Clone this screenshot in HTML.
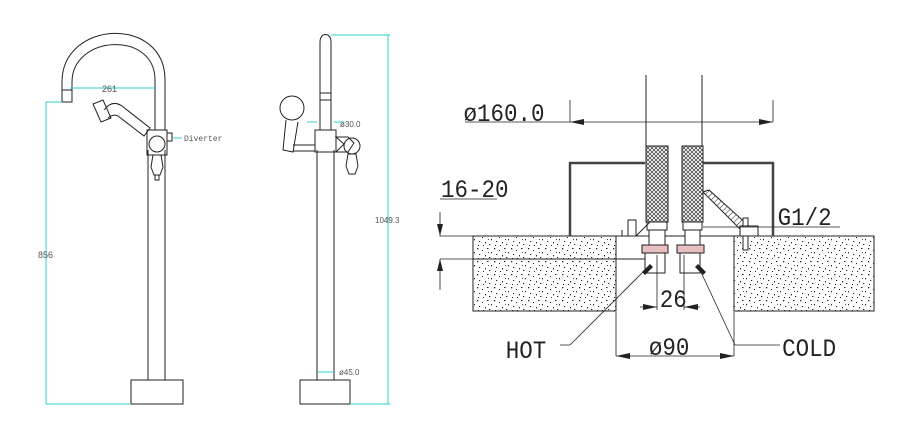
<!DOCTYPE html>
<html><head><meta charset="utf-8"><style>html,body{margin:0;padding:0;background:#fff}svg{display:block}</style></head><body>
<svg width="900" height="433" viewBox="0 0 900 433" xmlns="http://www.w3.org/2000/svg" font-family="Liberation Sans, sans-serif">
<defs>
<pattern id="sp" width="17" height="13" patternUnits="userSpaceOnUse">
<rect width="17" height="13" fill="#fff"/>
<g fill="#222">
<rect x="1" y="1" width="1.3" height="1.3"/><rect x="6" y="3" width="1" height="1"/><rect x="11" y="1" width="1.5" height="1"/><rect x="15" y="5" width="1" height="1.3"/>
<rect x="3" y="7" width="1.2" height="1"/><rect x="9" y="8" width="1" height="1.4"/><rect x="13" y="10" width="1.3" height="1"/><rect x="2" y="11" width="1" height="1"/><rect x="7" y="11" width="1" height="1"/><rect x="12" y="5" width="0.9" height="0.9"/>
</g></pattern>
<pattern id="hx" width="4" height="4" patternUnits="userSpaceOnUse"><rect width="4" height="4" fill="#fff"/><path d="M0 0L4 4M4 0L0 4" stroke="#333" stroke-width="0.7"/></pattern>
<pattern id="hl" width="4" height="4" patternUnits="userSpaceOnUse" patternTransform="rotate(45)"><rect width="4" height="4" fill="#fff"/><path d="M0 0V4" stroke="#222" stroke-width="1"/></pattern>
</defs>
<g fill="none" stroke="#222" stroke-width="1">
<rect x="131" y="380" width="52" height="24"/>
<path d="M148 380V150M165 380V150"/>
<path d="M62 82 C62 20 165 15 165 80 V130 M72 82 C72 35 155 30 155 80 V130"/>
<path d="M62 82V102H72V82M62 90H72"/>
<rect x="147" y="130" width="20" height="25"/>
<circle cx="157" cy="144" r="8"/>
<path d="M153 155h8l2 12-3 8h-6l-3-8z M155 175v5h4v-5"/>
<path d="M167 133h5v8h-5"/>
<path d="M93 104l10-4 8 18-10 4z M104 110c6-8 12-8 18-4l28 22-6 8-26-20c-4-2-8 0-10 2"/>
<rect x="300" y="380" width="50" height="24"/>
<path d="M317 380V150M334 380V150"/>
<path d="M320 130V42c0-10 11-10 11 0V130M320 93h11M320 100h11"/>
<rect x="315" y="130" width="21" height="22"/>
<circle cx="292" cy="108" r="12"/>
<path d="M286 120l-3 30 10 2 5-30M293 145h22v6h-22"/>
<path d="M336 137h12l6 6-6 9h-12l8-8z"/>
<circle cx="352" cy="146" r="8"/>
<path d="M348 154h8l2 12-3 8h-6l-3-8z"/>
</g>
<g stroke="#3cc" stroke-width="1" fill="none">
<path d="M70 88H155M46 102V404M46 102H62M46 404H131M388 35V404M331 35H390M350 404H390M317 122h-10M334 122h10M317 372h17"/>
<path d="M172 138h10"/>
</g>
<g fill="#555" font-size="8">
<text x="102" y="92" font-size="9">261</text>
<text x="184" y="141" font-family="Liberation Mono, monospace">Diverter</text>
<text x="38" y="258" font-size="9">856</text>
<text x="375" y="223" font-size="8">1049.3</text>
<text x="340" y="127">ø30.0</text>
<text x="339" y="375">ø45.0</text>
</g>
<rect x="473" y="236" width="143" height="75" fill="url(#sp)" stroke="#222"/>
<rect x="734" y="236" width="140" height="75" fill="url(#sp)" stroke="#222"/>
<g fill="none" stroke="#222" stroke-width="1">
<path d="M570 236V163H645M703 163H773V236" stroke-width="2.5" stroke="#444"/>
<path d="M646 75V148M702 75V148"/>
<path d="M616 236H734M473 259H660"/>
</g>
<rect x="646" y="146" width="22" height="76" fill="url(#hx)" stroke="#222"/>
<rect x="682" y="146" width="21" height="76" fill="url(#hx)" stroke="#222"/>
<path d="M703 192l6 -2 40 36 -6 6z" fill="url(#hl)" stroke="#222"/>
<g fill="#fff" stroke="#222">
<rect x="647" y="222" width="20" height="8"/><rect x="683" y="222" width="19" height="8"/>
<rect x="649" y="230" width="16" height="15"/><rect x="685" y="230" width="15" height="15"/>
<rect x="642" y="245" width="26" height="8" fill="#e8c0c0"/><rect x="677" y="245" width="27" height="8" fill="#e8c0c0"/>
<rect x="645" y="253" width="20" height="20"/><rect x="680" y="253" width="20" height="20"/>
<rect x="628" y="220" width="8" height="16"/><rect x="743" y="218" width="5" height="32"/><rect x="740" y="226" width="18" height="10"/>
</g>
<path d="M650 222L636 236M622 230V236" stroke="#222" fill="none"/>
<g stroke="#222" stroke-width="0.8" fill="none">
<path d="M465 122H773M570 122V100M773 122V100M440 199H497M440 212V236H473M440 259H473M440 259V290"/>
<path d="M778 227H840M703 227H778"/>
<path d="M616 312V356M734 312V356M616 356H734"/>
<path d="M657 255V310M684 255V310M640 307H657M684 307H700"/>
<path d="M570 345L645 270M735 345L700 270M560 345H570M735 345H780"/>
</g>
<g fill="#222">
<path d="M570 122l14-3v6zM773 122l-14-3v6zM440 236l-3-12h6zM440 259l-3 12h6zM657 307l-14-3v6zM684 307l14-3v6zM616 356l14-3v6zM734 356l-14-3v6z"/>
<path d="M642 272l8-8 3 3-8 8zM706 272l-8-8-3 3 8 8z"/>
</g>
<g fill="#222" font-family="Liberation Mono, monospace" font-size="25" transform="scale(0.9,1)">
<text x="515" y="121">ø160.0</text>
<text x="490" y="197">16-20</text>
<text x="864" y="225">G1/2</text>
<text x="733" y="307">26</text>
<text x="721" y="355">ø90</text>
<text x="562" y="358">HOT</text>
<text x="869" y="356">COLD</text>
</g>
</svg>
</body></html>
